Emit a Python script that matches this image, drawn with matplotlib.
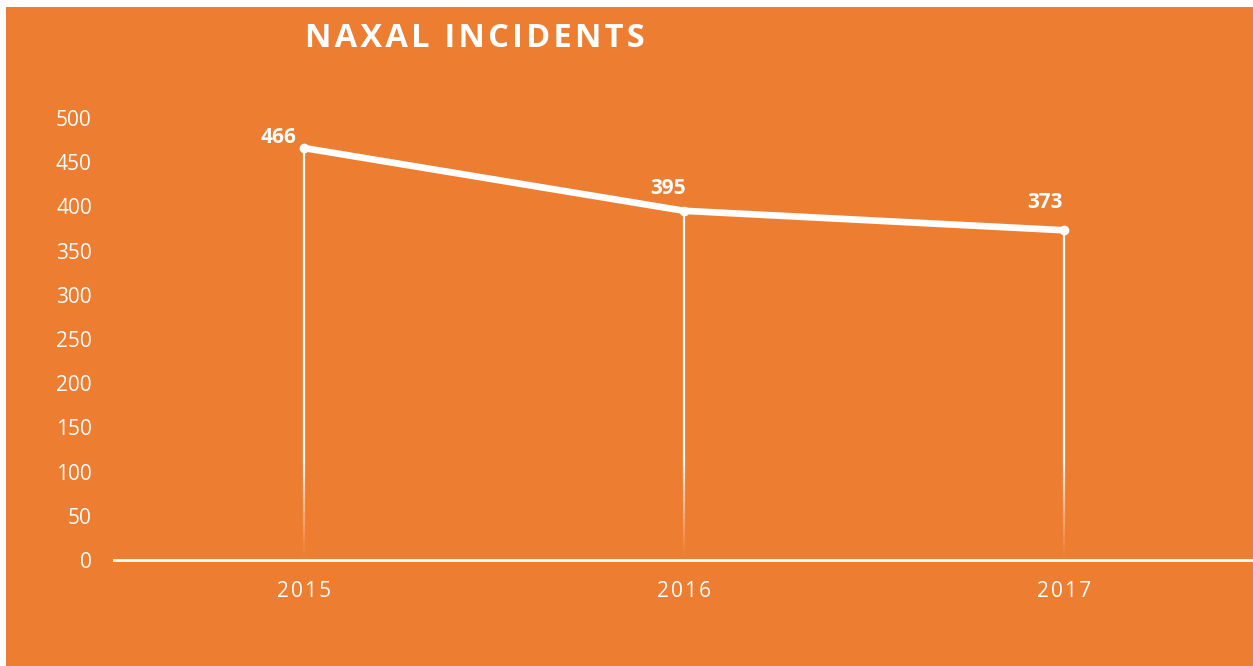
import matplotlib
matplotlib.use("Agg")
import matplotlib.pyplot as plt
from matplotlib.patches import Rectangle
from matplotlib.collections import LineCollection
import numpy as np

years = ["2015", "2016", "2017"]
incidents = [466, 395, 373]
yticks = [0, 50, 100, 150, 200, 250, 300, 350, 400, 450, 500]

# label offsets in pixels (layout only)
label_offsets = [(-26, 11), (-16, 22), (-19, 28)]

ORANGE = "#ED7D31"
W, H = 1253, 666
FAM = ["Open Sans", "DejaVu Sans"]
fig = plt.figure(figsize=(W / 100, H / 100), dpi=100, facecolor="white")
fig.patches.append(Rectangle((6 / W, 0), 1 - 6 / W, 1 - 7 / H, transform=fig.transFigure,
                             facecolor=ORANGE, edgecolor="none", zorder=-10))

ax = fig.add_axes([114 / W, 106 / H, 1 - 114 / W + 0.001, 442 / H])
ax.set_facecolor("none")
x = np.arange(len(years))
ax.set_xlim(-0.5, len(years) - 0.5)
ax.set_ylim(0, 500)

# drop lines with fade near the bottom
segs, cols = [], []
n = 60
for xi, v in zip(x, incidents):
    edges = np.linspace(0, v, n + 1)
    for a, b in zip(edges[:-1], edges[1:]):
        mid = (a + b) / 2
        alpha = min(1.0, mid / 110.0) ** 1.3
        segs.append([(xi, a), (xi, b)])
        cols.append((1, 1, 1, alpha))
ax.add_collection(LineCollection(segs, colors=cols, linewidths=1.6, capstyle="butt", zorder=2))

ax.plot(x, incidents, color="white", lw=4.8, solid_capstyle="round", solid_joinstyle="round",
        marker="o", ms=6, mfc="white", mec="white", zorder=3)

for xi, v, off in zip(x, incidents, label_offsets):
    ax.annotate(str(v), (xi, v), xytext=off, textcoords="offset pixels",
                ha="center", va="center", color="white", fontsize=15,
                fontweight="bold", family=FAM, zorder=4)

for s in ["top", "right", "left"]:
    ax.spines[s].set_visible(False)
ax.spines["bottom"].set_color("white")
ax.spines["bottom"].set_linewidth(2)
ax.spines["bottom"].set_zorder(5)

ax.set_xticks(x)
ax.set_xticklabels(["\u200a".join(y) for y in years])
ax.set_yticks(yticks)
ax.set_yticklabels([str(t) for t in yticks])
ax.tick_params(axis="both", length=0, colors="white", labelsize=15)
ax.tick_params(axis="y", pad=16)
ax.tick_params(axis="x", pad=15)
for lbl in ax.get_xticklabels() + ax.get_yticklabels():
    lbl.set_family(FAM)
    lbl.set_color("white")

fig.text(474.5 / W, 1 - 38.5 / H, "\u200a".join("NAXAL INCIDENTS"),
         ha="center", va="center", color="white", fontsize=23.5, fontweight="bold",
         family=FAM)

fig.savefig("out.png", dpi=100, facecolor=fig.get_facecolor())
